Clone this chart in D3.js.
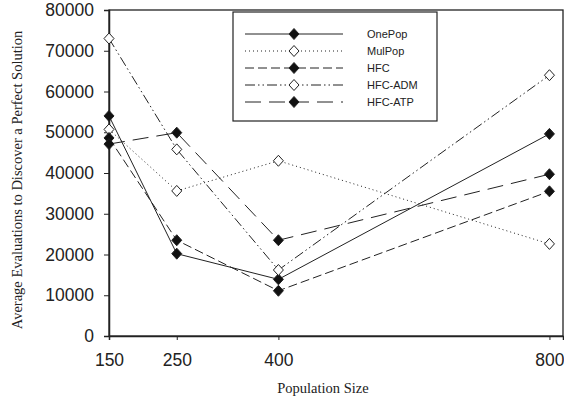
<!DOCTYPE html>
<html>
<head>
<meta charset="utf-8">
<script src="https://cdn.jsdelivr.net/npm/d3@7"></script>
<style>
html,body{margin:0;padding:0;background:#fff;}
svg{display:block;}
</style>
</head>
<body>
<svg id="chart" width="564" height="400"></svg>
<script>
const popSizes = [150, 250, 400, 800];
const seriesNames = ["OnePop", "MulPop", "HFC", "HFC-ADM", "HFC-ATP"];
const onePop = [54000, 20200, 13900, 49600];
const mulPop = [50700, 35600, 43000, 22600];
const hfc = [48600, 23500, 11100, 35500];
const hfcAdm = [73000, 45800, 16200, 64000];
const hfcAtp = [47100, 49900, 23500, 39700];
const yTicks = [0, 10000, 20000, 30000, 40000, 50000, 60000, 70000, 80000];
const xTicks = [150, 250, 400, 800];

const styles = {
  "OnePop": {dash: null, fill: "#111"},
  "MulPop": {dash: "1,3", fill: "#fff"},
  "HFC": {dash: "9,4", fill: "#111"},
  "HFC-ADM": {dash: "10,3,1.5,3,1.5,3", fill: "#fff"},
  "HFC-ATP": {dash: "16,8", fill: "#111"}
};
const valuesList = [onePop, mulPop, hfc, hfcAdm, hfcAtp];
const series = seriesNames.map((n, i) => ({name: n, values: valuesList[i].map((v, j) => ({x: popSizes[j], y: v}))}));

const svg = d3.select("#chart");
const L = 109, R = 563, T = 10, B = 336;
const x = d3.scaleLinear().domain([150, 820]).range([L, R]);
const y = d3.scaleLinear().domain([0, 80000]).range([B, T]);
const ink = "#222";

// frame
svg.append("rect").attr("x", L).attr("y", T).attr("width", R - L).attr("height", B - T)
  .attr("fill", "none").attr("stroke", ink).attr("stroke-width", 1.3);

// y axis
const yAxis = svg.append("g").attr("transform", `translate(${L},0)`)
  .call(d3.axisLeft(y).tickValues(yTicks).tickFormat(d3.format("d")).tickSize(5).tickPadding(10));
yAxis.select(".domain").attr("stroke", ink).attr("stroke-width", 1.5);
yAxis.selectAll(".tick line").attr("stroke", ink);
yAxis.selectAll("text").attr("font-family", "Liberation Sans, Arial, sans-serif").attr("font-size", 17.5).attr("fill", "#222");

// x axis
const xAxis = svg.append("g").attr("transform", `translate(0,${B})`)
  .call(d3.axisBottom(x).tickValues(xTicks).tickFormat(d3.format("d")).tickSize(4).tickPadding(14));
xAxis.select(".domain").attr("stroke", ink).attr("stroke-width", 1.5);
xAxis.selectAll(".tick line").attr("stroke", ink);
xAxis.selectAll("text").attr("font-family", "Liberation Sans, Arial, sans-serif").attr("font-size", 17.5).attr("fill", "#222");

// axis titles
svg.append("text").attr("x", 323).attr("y", 393).attr("text-anchor", "middle")
  .attr("font-family", "Liberation Serif, Times New Roman, serif").attr("font-size", 14.5).attr("fill", "#222")
  .text("Population Size");
svg.append("text").attr("transform", "translate(22,180) rotate(-90)").attr("text-anchor", "middle")
  .attr("font-family", "Liberation Serif, Times New Roman, serif").attr("font-size", 14.5).attr("fill", "#222")
  .text("Average Evaluations to Discover a Perfect Solution");

// lines
const line = d3.line().x(d => x(d.x)).y(d => y(d.y));
const diamond = "M0,-5.5L5,0L0,5.5L-5,0Z";

series.forEach(s => {
  const st = styles[s.name];
  svg.append("path").datum(s.values).attr("d", line)
    .attr("fill", "none").attr("stroke", ink).attr("stroke-width", 1)
    .attr("stroke-dasharray", st.dash);
});
series.forEach(s => {
  const st = styles[s.name];
  svg.append("g").selectAll("path").data(s.values).join("path")
    .attr("transform", d => `translate(${x(d.x)},${y(d.y)})`)
    .attr("d", diamond).attr("fill", st.fill).attr("stroke", ink).attr("stroke-width", 1);
});

// legend
const lg = svg.append("g");
lg.append("rect").attr("x", 233).attr("y", 12).attr("width", 204).attr("height", 109)
  .attr("fill", "#fff").attr("stroke", ink).attr("stroke-width", 1.2);
seriesNames.forEach((n, i) => {
  const st = styles[n];
  const yy = 34 + i * 17;
  lg.append("line").attr("x1", 245).attr("x2", 343).attr("y1", yy).attr("y2", yy)
    .attr("stroke", ink).attr("stroke-width", 1).attr("stroke-dasharray", st.dash);
  lg.append("path").attr("transform", `translate(294,${yy})`).attr("d", diamond)
    .attr("fill", st.fill).attr("stroke", ink).attr("stroke-width", 1);
  lg.append("text").attr("x", 367).attr("y", yy + 4)
    .attr("font-family", "Liberation Sans, Arial, sans-serif").attr("font-size", 11).attr("fill", "#222")
    .text(n);
});
</script>
</body>
</html>
